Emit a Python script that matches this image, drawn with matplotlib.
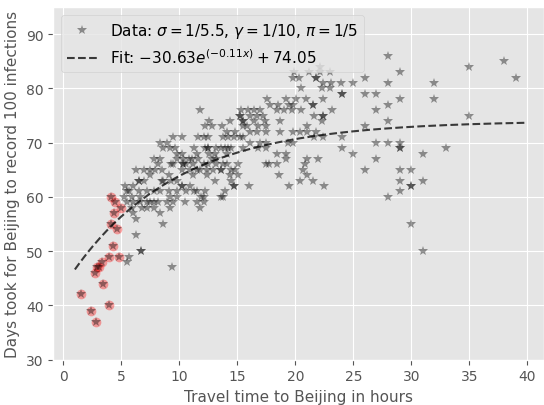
import numpy as np
import matplotlib
matplotlib.use("Agg")
import matplotlib.pyplot as plt

plt.style.use("ggplot")

# days until Beijing records 100 infections, with the travel times (hours) seen at that level
day_levels = [86, 85, 84, 83, 82, 81, 80, 79, 78, 77, 76, 75, 74, 73, 72, 71, 70, 69, 68,
              67, 66, 65, 64, 63, 62, 61, 60, 59, 58, 57, 56, 55, 53, 50, 49, 48, 47]
hours_at_level = [
    [28],
    [38],
    [22.1, 35],
    [19.9, 21.2, 22.1, 23, 29],
    [19.8, 20.3, 21.8, 21.8, 26, 39],
    [22.4, 23.1, 23.9, 25, 28, 32],
    [20.5, 22.3, 23],
    [24, 24, 26, 27],
    [17.6, 19.2, 20.1, 20.9, 22.4, 29, 32],
    [17.8, 18.5, 19.5, 19.8, 21.5, 21.5, 28],
    [11.8, 15.3, 15.9, 16.4, 17, 18.4, 19, 19.7, 20.5, 23.2, 27],
    [15.2, 15.2, 16.1, 16.7, 17.2, 21.6, 22.4, 22.4, 35],
    [12.6, 14.4, 15.5, 15.5, 16.4, 17.4, 18.7, 22.3, 28],
    [12.2, 12.8, 13.7, 15.5, 15.8, 16.8, 17.5, 21, 26],
    [14.1, 14.8, 16.1, 16.7, 17.5, 18.7, 19.8, 20.4, 21, 21.8],
    [9.5, 10.2, 11.6, 12.1, 12.5, 13.8, 14.2, 14.7, 15.2, 15.5, 21.6, 22.4, 24],
    [8.3, 8.9, 16.1, 17, 17.5, 19.4, 19.8, 27, 28, 29],
    [8.6, 9.2, 9.6, 11.3, 12.2, 12.5, 12.5, 13.2, 13.6, 13.9, 14.2, 14.5, 15.5, 16.8, 17.5,
     24, 29, 29, 33],
    [9.8, 10.2, 11.5, 12.6, 13.1, 14.1, 18.4, 19.2, 25, 31],
    [7.8, 8.3, 9.8, 10.3, 10.8, 11.1, 11.6, 12.8, 13.2, 19.2, 21, 22, 27],
    [8.2, 9.3, 9.5, 10.3, 10.3, 10.6, 11.2, 12.1, 12.5, 13.2, 13.8, 14.1, 15.1, 17.5, 17.7,
     18.4, 20.8],
    [6.3, 7.0, 7.5, 7.9, 8.5, 10.2, 10.9, 11.5, 11.8, 12.4, 12.9, 13.6, 13.6, 14.5, 14.8,
     20.7, 26, 29, 30],
    [7.5, 9.1, 11.2, 12.4, 14.4, 15.1, 18.6, 21],
    [6.5, 6.5, 7.0, 8.5, 8.6, 9.3, 9.8, 13.1, 14.5, 20.4, 21.5, 29, 31],
    [5.3, 6.0, 10.2, 10.2, 10.9, 14.7, 14.7, 16, 19.5, 22.5, 30, 30],
    [5.5, 5.7, 6.5, 7.2, 7.8, 8.3, 9.1, 9.8, 10.6, 11.3, 11.5, 12.2, 13.9, 29],
    [5.2, 5.9, 6.6, 9.2, 9.8, 11.9, 12.1, 13.6, 13.8, 28],
    [5.5, 6.0, 6.6, 7.2, 7.5, 7.8, 8.2, 8.9, 9.5, 10.5, 11.5, 12.1],
    [5.9, 6.8, 7.2, 7.8, 9.2, 11.8],
    [6.0, 8.3],
    [6.3],
    [8.6, 30],
    [6.3],
    [6.7, 6.7, 31],
    [5.7],
    [5.5],
    [9.4],
]

# cities highlighted in red (closest to Beijing)
red_hours = [4.07, 4.44, 5.0, 4.35, 4.1, 4.6, 4.3, 3.9, 4.8, 3.3, 3.1, 2.9, 2.7, 3.4, 1.5,
             3.9, 2.4, 2.8]
red_days = [60, 59, 58, 57, 55, 54, 51, 49, 49, 48, 47, 47, 46, 44, 42, 40, 39, 37]

# fitted model a*exp(b*x) + c
fit_a, fit_b, fit_c = -30.63, -0.11, 74.05

hours = [h for hs in hours_at_level for h in hs] + red_hours
days = [d for d, hs in zip(day_levels, hours_at_level) for _ in hs] + red_days

fig = plt.figure(figsize=(5.44, 4.06), dpi=100)
ax = fig.add_axes([0.098, 0.112, 0.902, 0.868])

ax.plot(red_hours, red_days, "o", color="red", alpha=0.35, markersize=7, markeredgewidth=0)
ax.plot(hours, days, "*", color="k", alpha=0.4, markersize=7, markeredgewidth=0,
        label=r"Data: $\sigma = 1/5.5$, $\gamma = 1/10$, $\pi = 1/5$")

xf = np.linspace(1, 40, 200)
ax.plot(xf, fit_a * np.exp(fit_b * xf) + fit_c, "--", color="k", alpha=0.75,
        label=r"Fit: $-30.63e^{(-0.11x)} + 74.05$")

ax.set_xlim(-0.86, 41.44)
ax.set_ylim(30, 95)
ax.set_xticks(range(0, 41, 5))
ax.set_yticks(range(30, 91, 10))
ax.set_xlabel("Travel time to Beijing in hours", fontsize=11)
ax.set_ylabel("Days took for Beijing to record 100 infections", fontsize=11)
ax.legend(loc="upper left", fontsize=11)

fig.savefig("out.png", dpi=100)
